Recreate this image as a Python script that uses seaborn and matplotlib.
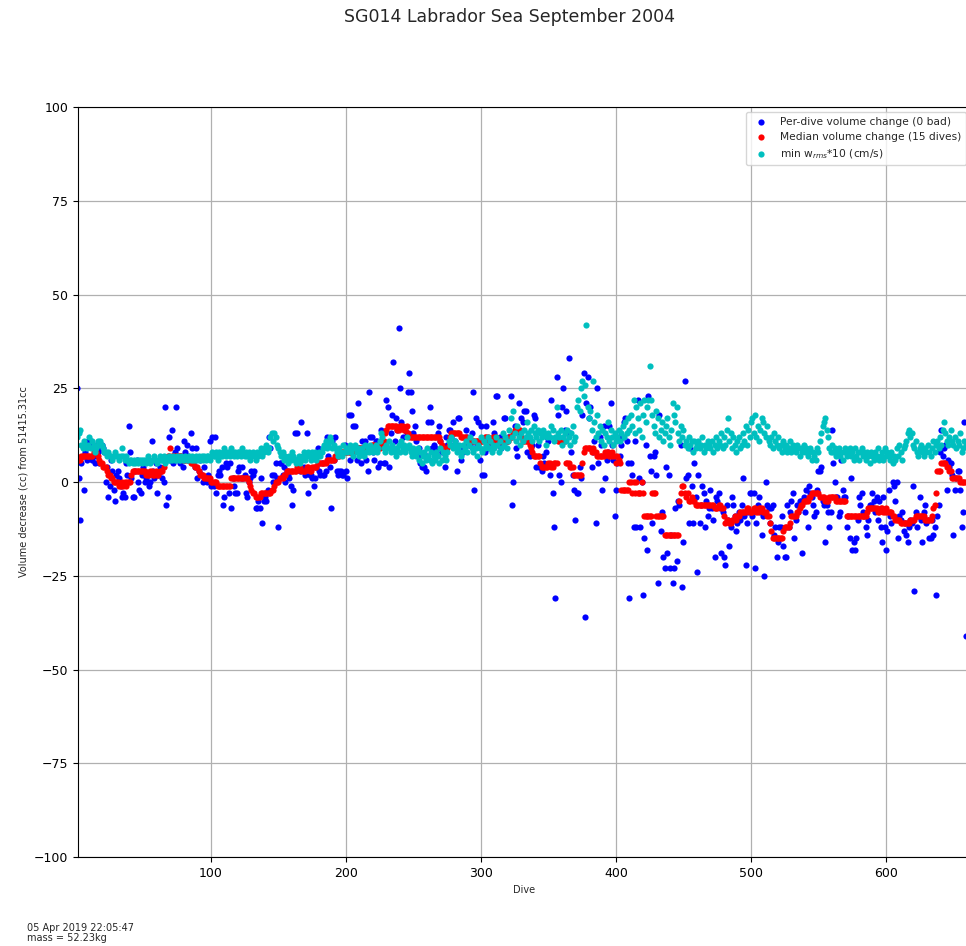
import numpy as np
import pandas as pd
import matplotlib
matplotlib.use("Agg")
import matplotlib.pyplot as plt
import seaborn as sns

# %% data, one value per dive (dive 1 .. 659)
per_dive = [
    25, 1, -10, 5, 7, -2, 8, 6, 11, 10,
    11, 6, 10, 5, 7, 8, 5, 9, 10, 9,
    8, 0, 4, -4, -1, 6, 3, -2, -5, 2,
    3, 1, -1, -4, -3, -4, 5, 2, 15, 8,
    1, -4, -4, 3, 6, 0, -2, -3, 2, 4,
    0, 1, 0, -1, 0, 11, 3, 1, 5, -3,
    2, 4, 3, 1, 0, 20, -6, -4, 12, 6,
    14, 5, 8, 20, 9, 6, 5, 7, 4, 11,
    8, 10, 7, 6, 13, 9, 5, 4, 9, 1,
    3, 6, 2, 0, 4, 1, 0, 2, 11, -1,
    12, -1, 12, -3, 2, 3, 2, 4, -6, -4,
    5, 4, -3, 5, -7, 1, -1, -3, -3, 3,
    4, 1, 4, 1, 2, -3, -4, 0, 1, 3,
    2, 3, -7, -7, -5, -7, 1, -11, -5, -4,
    -5, -2, 12, 9, 2, 0, 2, 5, 1, -12,
    5, 5, 2, 4, 0, 3, 2, 1, -1, -6,
    -2, 13, 6, 13, 5, 3, 16, 7, 4, 2,
    13, -3, 2, 2, 1, -1, 1, 4, 9, 3,
    2, 5, 2, 2, 3, 12, 7, 4, -7, 11,
    6, 12, 3, 2, 3, 3, 2, 2, 10, 3,
    1, 18, 6, 18, 15, 9, 15, 6, 21, 9,
    5, 11, 9, 11, 6, 3, 24, 12, 12, 8,
    6, 11, 11, 4, 5, 14, 13, 5, 5, 22,
    20, 4, 13, 18, 32, 11, 17, 14, 41, 25,
    16, 12, 9, 14, 13, 24, 29, 24, 19, 13,
    15, 11, 7, 9, 5, 4, 4, 4, 3, 7,
    16, 20, 16, 9, 10, 9, 8, 13, 15, 11,
    8, 9, 4, 12, 10, 14, 14, 12, 16, 10,
    11, 3, 17, 17, 6, 9, 8, 10, 14, 12,
    10, 10, 13, 24, -2, 17, 10, 16, 6, 15,
    2, 2, 8, 15, 9, 11, 11, 10, 16, 13,
    23, 23, 10, 12, 9, 11, 17, 17, 11, 12,
    12, 23, -6, 0, 15, 9, 7, 21, 13, 17,
    16, 19, 19, 8, 12, 7, 11, 10, 18, 17,
    4, 10, 4, 4, 3, 7, 5, 8, 12, 11,
    2, 22, -3, -12, -31, 28, 18, 2, 0, 20,
    25, 14, 19, 13, 33, 13, 8, 2, -2, -10,
    -3, -3, 4, 1, 18, 29, -36, 21, 28, 17,
    20, 4, 8, 11, -11, 25, 5, 12, 10, -2,
    15, 1, 6, 8, 15, 21, 10, 6, -9, -2,
    5, 12, 7, 10, 12, 16, 17, 11, 5, -31,
    5, 2, -12, 11, -12, 22, 1, -12, 0, -30,
    -15, 10, -18, 23, 7, 3, -11, 7, 8, 2,
    -27, 18, -13, -8, -20, -23, 4, -19, 2, -23,
    -14, -27, -23, -7, -21, -5, -6, 10, -28, -16,
    27, 1, 2, -11, 9, -1, -11, 5, -4, -24,
    2, -11, -6, -1, -3, -12, -5, -9, -7, -2,
    -7, -10, -20, -4, -5, -3, -7, -19, -8, -20,
    -22, -6, -10, -17, -12, -4, -6, -9, -13, -11,
    -8, -10, -6, 1, -9, -22, -11, -8, -3, -3,
    -9, -3, -23, -11, -6, -4, -8, -14, -9, -25,
    0, -6, -7, -11, -7, -6, -14, -12, -20, -16,
    -12, -12, -9, -17, -20, -20, -6, -12, -8, -5,
    -3, -15, -10, -6, -8, -5, -5, -19, -4, -8,
    -2, -12, -1, -3, -4, -6, -9, -8, -2, 3,
    3, 4, -5, -6, -16, -6, -8, -12, -8, 14,
    5, 0, -4, -4, -9, -8, 6, -2, -4, -4,
    -12, -9, -15, 1, -18, -16, -18, -15, -10, -4,
    -6, -3, -8, -9, -12, -14, -10, -6, -6, -3,
    -5, -8, -4, -10, -5, -12, -16, -4, -12, -18,
    -13, -2, -9, -11, 0, -1, -5, 0, -15, -9,
    -10, -8, -13, -11, -14, -16, -12, -10, -11, -1,
    -29, -8, -12, -9, -4, -10, -16, -8, -6, -11,
    -10, -15, -15, -10, -14, -12, -30, -9, -6, 8,
    14, 7, 9, 10, -2, 6, 4, 5, 2, -14,
    -2, 1, 3, 3, -2, -12, -8, 16, -41,
]

median_15 = [
    6, 6, 6, 7, 7, 7, 7, 7, 7, 7,
    7, 7, 8, 8, 8, 7, 6, 5, 5, 4,
    4, 4, 3, 2, 2, 1, 1, 0, 0, 0,
    0, -1, -1, 0, -1, 0, -1, 0, 0, 0,
    2, 3, 3, 3, 3, 3, 3, 3, 3, 3,
    3, 2, 2, 2, 3, 3, 2, 2, 3, 2,
    2, 3, 3, 3, 4, 6, 6, 7, 7, 9,
    7, 7, 7, 7, 7, 7, 7, 7, 6, 6,
    6, 6, 6, 6, 5, 5, 5, 4, 4, 4,
    3, 2, 2, 2, 1, 1, 1, 1, 1, 0,
    0, 0, 0, 0, -1, -1, -1, -1, -1, -1,
    -1, -1, -1, -1, 1, 1, 1, 1, 1, 1,
    1, 1, 1, 1, 1, 1, 1, 0, -1, -2,
    -3, -3, -4, -4, -4, -4, -3, -3, -3, -3,
    -3, -3, -3, -3, -2, -2, -1, 0, 0, 0,
    1, 1, 1, 2, 2, 3, 3, 3, 3, 3,
    3, 3, 3, 4, 4, 4, 3, 3, 3, 3,
    4, 4, 3, 3, 4, 4, 4, 4, 5, 5,
    5, 5, 5, 5, 5, 6, 6, 6, 6, 6,
    6, 7, 7, 7, 7, 8, 8, 8, 8, 8,
    8, 8, 8, 8, 8, 9, 9, 9, 9, 9,
    9, 9, 9, 9, 9, 9, 9, 9, 10, 10,
    10, 9, 9, 9, 9, 10, 10, 11, 13, 14,
    15, 15, 15, 15, 15, 15, 15, 14, 14, 15,
    15, 15, 14, 14, 15, 13, 12, 12, 12, 12,
    12, 12, 12, 12, 12, 12, 12, 12, 12, 12,
    12, 12, 12, 12, 12, 12, 12, 12, 12, 11,
    10, 9, 8, 8, 9, 10, 12, 13, 13, 13,
    13, 13, 13, 13, 12, 12, 12, 12, 12, 11,
    11, 11, 11, 11, 11, 11, 11, 11, 11, 11,
    11, 11, 12, 12, 12, 11, 11, 11, 12, 12,
    12, 11, 11, 11, 11, 11, 11, 11, 11, 11,
    12, 12, 12, 13, 14, 14, 14, 14, 14, 12,
    11, 11, 11, 11, 11, 10, 9, 8, 7, 7,
    7, 7, 7, 5, 4, 4, 4, 4, 4, 5,
    5, 4, 4, 5, 5, 5, 11, 11, 11, 11,
    11, 11, 5, 5, 5, 4, 4, 4, 2, 2,
    2, 2, 2, 2, 5, 8, 9, 9, 9, 9,
    9, 8, 9, 8, 8, 7, 7, 7, 7, 7,
    7, 8, 8, 8, 7, 7, 8, 7, 7, 5,
    7, 6, 5, -2, -2, -2, -2, -2, -2, 0,
    0, -3, 0, -3, 0, -3, -3, -3, 0, -3,
    -9, -9, -9, -9, -9, -9, -3, -3, -3, -9,
    -9, -9, -9, -9, -9, -14, -14, -14, -14, -14,
    -14, -14, -14, -14, -14, -14, -5, -3, -1, -1,
    -3, -4, -3, -5, -5, -4, -5, -5, -6, -6,
    -6, -6, -6, -6, -6, -6, -6, -6, -6, -6,
    -6, -6, -7, -7, -7, -6, -6, -7, -7, -9,
    -11, -10, -10, -11, -11, -10, -10, -9, -10, -9,
    -9, -8, -8, -8, -8, -8, -7, -7, -8, -8,
    -8, -7, -7, -8, -8, -7, -7, -7, -8, -8,
    -8, -9, -9, -11, -13, -15, -15, -15, -15, -15,
    -15, -15, -15, -13, -12, -12, -12, -12, -11, -9,
    -9, -9, -9, -8, -8, -7, -6, -6, -5, -5,
    -5, -5, -4, -4, -3, -3, -3, -3, -3, -3,
    -4, -4, -4, -4, -5, -5, -5, -4, -4, -4,
    -4, -4, -5, -5, -5, -5, -5, -5, -5, -5,
    -9, -9, -9, -9, -9, -9, -9, -9, -9, -9,
    -9, -9, -9, -9, -9, -8, -7, -7, -7, -7,
    -7, -7, -7, -8, -8, -7, -7, -8, -8, -7,
    -8, -8, -8, -8, -9, -9, -10, -10, -10, -10,
    -11, -11, -11, -11, -11, -11, -11, -10, -10, -10,
    -10, -9, -9, -9, -9, -9, -9, -9, -10, -10,
    -10, -10, -10, -9, -7, -6, -3, 3, 3, 3,
    5, 5, 5, 5, 4, 4, 3, 3, 1, 1,
    1, 1, 1, 1, 0, 0, 0, 0, 0,
]

w_rms_x10 = [
    12, 13, 14, 10, 9, 11, 10, 9, 10, 12,
    9, 11, 10, 8, 9, 11, 10, 11, 10, 9,
    8, 8, 7, 8, 7, 7, 6, 7, 8, 7,
    7, 6, 7, 9, 7, 6, 7, 6, 5, 6,
    6, 5, 6, 5, 6, 5, 6, 6, 5, 6,
    6, 5, 7, 6, 5, 6, 6, 7, 6, 5,
    6, 7, 6, 6, 7, 5, 6, 6, 7, 6,
    6, 7, 6, 6, 7, 6, 6, 7, 6, 6,
    7, 6, 6, 7, 6, 7, 6, 6, 7, 6,
    7, 6, 7, 6, 7, 6, 7, 7, 6, 7,
    8, 7, 7, 8, 6, 8, 7, 7, 8, 9,
    7, 8, 8, 7, 9, 8, 7, 8, 7, 8,
    8, 7, 9, 8, 7, 8, 7, 8, 6, 7,
    8, 7, 6, 8, 7, 8, 9, 7, 8, 9,
    10, 8, 9, 12, 13, 11, 13, 12, 10, 9,
    8, 7, 8, 6, 7, 6, 5, 7, 6, 8,
    7, 6, 5, 6, 7, 5, 6, 7, 8, 6,
    7, 8, 7, 6, 8, 7, 8, 6, 7, 8,
    7, 8, 9, 10, 11, 9, 10, 12, 11, 9,
    10, 9, 8, 7, 9, 8, 7, 10, 8, 9,
    8, 9, 10, 8, 7, 9, 10, 8, 9, 7,
    8, 9, 7, 10, 8, 9, 8, 10, 9, 8,
    9, 10, 8, 9, 11, 13, 12, 9, 8, 10,
    9, 11, 8, 10, 9, 8, 7, 9, 10, 8,
    11, 9, 10, 8, 12, 9, 10, 8, 7, 9,
    8, 7, 9, 6, 8, 5, 7, 8, 6, 9,
    7, 6, 8, 5, 7, 6, 8, 7, 5, 9,
    6, 8, 7, 6, 8, 11, 10, 12, 9, 10,
    11, 8, 9, 10, 7, 8, 10, 9, 11, 8,
    10, 12, 9, 8, 11, 9, 7, 10, 9, 12,
    8, 11, 9, 10, 12, 9, 11, 8, 10, 9,
    12, 10, 8, 11, 9, 13, 10, 12, 9, 11,
    14, 17, 12, 19, 13, 11, 15, 12, 10, 13,
    11, 14, 12, 16, 13, 12, 14, 11, 15, 13,
    12, 14, 11, 13, 12, 14, 13, 10, 12, 13,
    12, 15, 14, 11, 12, 20, 13, 12, 14, 10,
    12, 13, 11, 14, 12, 10, 13, 15, 11, 12,
    20, 22, 19, 25, 27, 23, 26, 42, 20, 17,
    19, 14, 27, 16, 12, 18, 13, 15, 11, 14,
    10, 13, 12, 16, 11, 14, 12, 10, 13, 11,
    12, 14, 11, 13, 15, 12, 16, 13, 17, 14,
    18, 15, 22, 13, 20, 17, 14, 21, 12, 18,
    22, 16, 20, 22, 31, 22, 18, 15, 13, 19,
    17, 12, 14, 16, 11, 13, 15, 17, 12, 10,
    14, 21, 18, 16, 20, 13, 11, 15, 12, 14,
    10, 11, 9, 12, 10, 11, 8, 11, 9, 10,
    11, 9, 10, 12, 8, 10, 9, 11, 10, 9,
    11, 8, 10, 12, 9, 11, 10, 13, 9, 12,
    10, 14, 17, 11, 13, 9, 12, 10, 8, 11,
    12, 9, 10, 13, 11, 15, 10, 14, 12, 16,
    17, 13, 18, 12, 15, 11, 14, 17, 16, 13,
    12, 15, 11, 10, 12, 9, 13, 11, 10, 12,
    9, 10, 8, 11, 9, 10, 8, 9, 11, 8,
    10, 9, 8, 10, 9, 7, 9, 8, 10, 8,
    9, 7, 8, 9, 6, 8, 7, 6, 9, 8,
    11, 13, 15, 16, 17, 14, 12, 9, 8, 10,
    8, 9, 7, 8, 9, 7, 8, 6, 8, 9,
    7, 8, 9, 7, 8, 6, 9, 7, 8, 6,
    8, 9, 7, 8, 6, 8, 7, 5, 8, 7,
    6, 8, 7, 9, 6, 7, 8, 6, 9, 7,
    8, 7, 6, 8, 5, 7, 6, 9, 7, 10,
    8, 6, 9, 10, 11, 13, 14, 12, 13, 10,
    9, 11, 8, 7, 9, 10, 8, 7, 9, 8,
    10, 8, 7, 9, 11, 8, 10, 11, 9, 12,
    10, 14, 16, 13, 11, 10, 12, 14, 11, 10,
    12, 9, 11, 10, 13, 8, 9, 11, 10,
]

title = "SG014 Labrador Sea September 2004"
stamp = "05 Apr 2019 22:05:47\nmass = 52.23kg"

# %% frames
df_dive = pd.DataFrame({"dive": np.arange(1, len(per_dive) + 1), "vol": per_dive})
df_med = pd.DataFrame({"dive": np.arange(1, len(median_15) + 1), "vol": median_15})
df_w = pd.DataFrame({"dive": np.arange(1, len(w_rms_x10) + 1), "vol": w_rms_x10})

# %% plot
sns.set_style("ticks", {"axes.grid": True, "grid.color": "#b0b0b0",
                        "axes.edgecolor": "black"})

fig = plt.figure(figsize=(9.66, 9.46), dpi=100)
ax = fig.add_axes([78 / 966, 89 / 946, 893 / 966, 750 / 946])

sns.scatterplot(data=df_dive, x="dive", y="vol", color="b", s=20, linewidth=0,
                label="Per-dive volume change (0 bad)", ax=ax)
sns.scatterplot(data=df_med, x="dive", y="vol", color="r", s=20, linewidth=0,
                label="Median volume change (15 dives)", ax=ax)
sns.scatterplot(data=df_w, x="dive", y="vol", color="c", s=20, linewidth=0,
                label="min w$_{rms}$*10 (cm/s)", ax=ax)

ax.set_xlim(1.5, 663)
ax.set_ylim(-100, 100)
ax.set_xticks([100, 200, 300, 400, 500, 600])
ax.set_yticks(np.arange(-100, 101, 25))
ax.tick_params(labelsize=9, color="black", labelcolor="black")
ax.grid(True, color="#b0b0b0", linewidth=0.9)
ax.set_xlabel("Dive", fontsize=7)
ax.set_ylabel("Volume decrease (cc) from 51415.31cc", fontsize=7)
for side in ["left", "bottom", "top"]:
    ax.spines[side].set_visible(True)
    ax.spines[side].set_color("black")
ax.spines["right"].set_visible(False)

ax.legend(loc="upper right", fontsize=7.7, frameon=True, borderaxespad=0.5)

fig.text(509 / 966, 1 - 17 / 946, title, ha="center", va="center", fontsize=12.5)
fig.text(27 / 966, 3 / 946, stamp, ha="left", va="bottom", fontsize=7,
         linespacing=1.0)

fig.savefig("out.png", dpi=100)
